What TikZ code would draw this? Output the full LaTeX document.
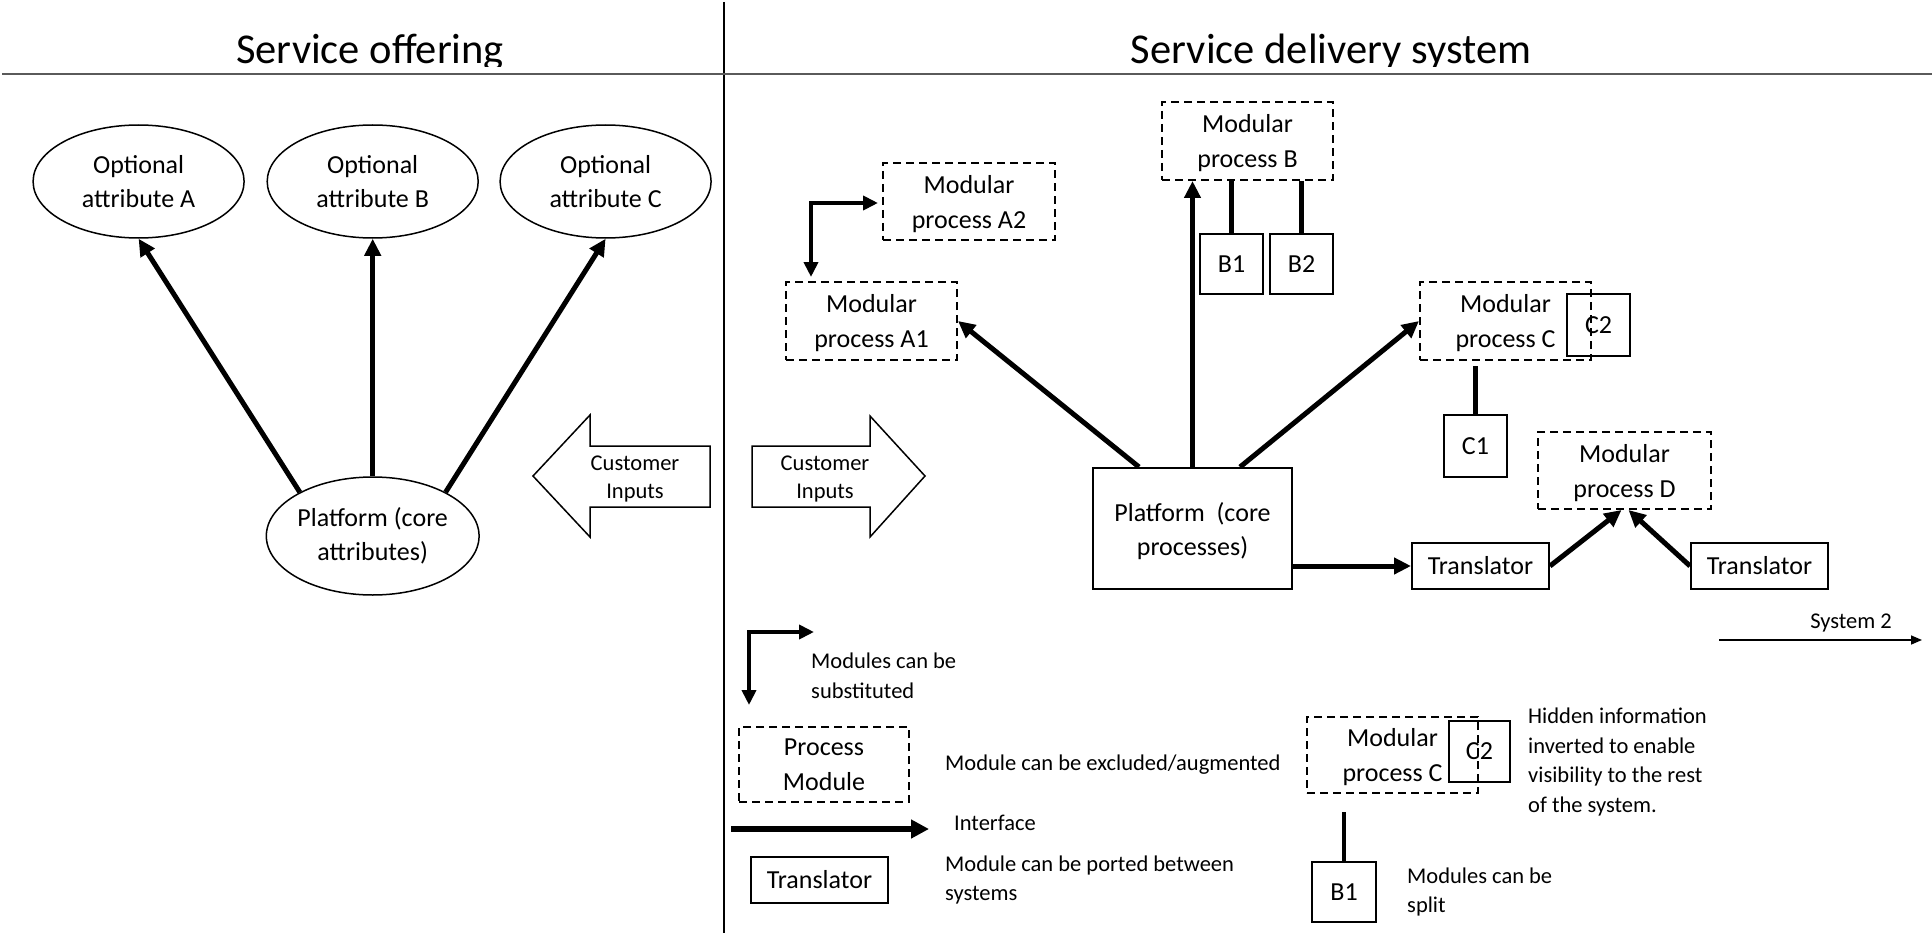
\documentclass[tikz,border=0pt]{standalone}
\usepackage{fontspec}
\setmainfont{Carlito}
\usetikzlibrary{arrows.meta,shapes.geometric,calc}
\definecolor{sepgray}{RGB}{90,90,90}
\begin{document}
\begin{tikzpicture}[x=1pt,y=-1pt,
  oval/.style={draw, line width=1.5pt, ellipse, minimum width=211pt, minimum height=113pt, inner sep=0pt, align=center, font=\fontsize{26}{34}\selectfont},
  dbox/.style={draw, dash pattern=on 8pt off 5pt, line width=2pt, minimum width=171pt, minimum height=78pt, inner sep=0pt, align=center, font=\fontsize{26}{35}\selectfont, text depth=-2.5pt},
  sbox/.style={draw, line width=2pt, inner sep=0pt, align=center, font=\fontsize{26}{34}\selectfont},
  legtext/.style={inner sep=0pt, align=left, anchor=west, font=\fontsize{22.5}{29.5}\selectfont},
  smalltext/.style={inner sep=0pt, align=center, font=\fontsize{22.5}{28.5}\selectfont},
  iarr/.style={line width=5pt, -{Triangle[length=17pt,width=16pt]}},
  subarr/.style={line width=4.5pt, {Triangle[length=15pt,width=14pt]}-{Triangle[length=15pt,width=14pt]}},
  link/.style={line width=4.5pt},
  cinput/.style={draw, line width=1.5pt, fill=white, line join=miter}
]
\useasboundingbox (0,0) rectangle (1932,936);

% frame lines
\coordinate (vtop) at (724,2);
\coordinate (vbot) at (724,933);
\coordinate (hl) at (2,74);
\coordinate (hr) at (1932,74);
\draw[line width=1.5pt] (vtop) -- (vbot);
\draw[line width=2.5pt, sepgray] (hl) -- (hr);

% titles (descenders cut)
\begin{scope}
\clip (0,0) rectangle (1932,67);
\node[anchor=base, inner sep=0pt, font=\fontsize{42.5}{50}\selectfont] (title1) at (370,64) {Service offering};
\node[anchor=base, inner sep=0pt, font=\fontsize{42.5}{50}\selectfont] (title2) at (1331,64) {Service delivery system};
\end{scope}

% ---------------- left: service offering
\node[oval] (oa) at (138.6,181.5) {Optional\\attribute A};
\node[oval] (ob) at (372.7,181.5) {Optional\\attribute B};
\node[oval] (oc) at (605.6,181.5) {Optional\\attribute C};
\node[oval, minimum width=212pt, minimum height=118pt] (pe) at (372.7,536) {Platform (core\\attributes)};
\draw[iarr] (pe.149) -- (oa.south);
\draw[iarr] (pe.north) -- (ob.south);
\draw[iarr] (pe.31) -- (oc.south);

% customer inputs arrows
\draw[cinput] (710,446) -- (590,446) -- (590,415) -- (533,476) -- (590,537) -- (590,507) -- (710,507) -- cycle;
\node[smalltext] (ci1) at (635,479) {Customer\\Inputs};
\draw[cinput] (752,446) -- (870,446) -- (870,416) -- (925,476) -- (870,537) -- (870,507) -- (752,507) -- cycle;
\node[smalltext] (ci2) at (825,479) {Customer\\Inputs};

% ---------------- right: service delivery system
\node[dbox, minimum width=172pt, minimum height=77pt] (a2) at (969,201.5) {Modular\\process A2};
\node[dbox] (a1) at (871.5,321) {Modular\\process A1};
\node[dbox] (b) at (1247.5,141) {Modular\\process B};
\node[sbox, minimum width=63pt, minimum height=60pt] (b1) at (1231.5,264) {B1};
\node[sbox, minimum width=63pt, minimum height=60pt] (b2) at (1301.5,264) {B2};
\node[sbox, minimum width=199pt, minimum height=121pt, text depth=-3pt] (pf) at (1192.5,528.5) {Platform~ (core\\processes)};
\node[dbox] (c) at (1505.5,321) {Modular\\process C};
\node[sbox, minimum width=63pt, minimum height=62pt] (c2) at (1598.5,325) {C2};
\node[sbox, minimum width=63pt, minimum height=62pt] (c1) at (1475.5,446) {C1};
\node[dbox, minimum width=173pt, minimum height=77pt] (d) at (1624.5,470.5) {Modular\\process D};
\node[sbox, minimum width=137pt, minimum height=46pt] (t1) at (1480.5,566) {Translator};
\node[sbox, minimum width=137pt, minimum height=46pt] (t2) at (1759.5,566) {Translator};

\draw[link] (b1.north |- b.south) -- (b1.north);
\draw[link] (b2.north |- b.south) -- (b2.north);
\draw[link] ($(c1.north |- c.south)+(0,5)$) -- (c1.north);

\draw[iarr] ($(pf.north west)+(47,0)$) -- (a1.east);
\draw[iarr] (pf.north) -- (pf.north |- b.south);
\draw[iarr] ($(pf.north west)+(148,0)$) -- (c.west);
\draw[iarr] (t1.west -| pf.east) -- (t1.west);
\draw[iarr] (t1.east) -- ($(d.south)+(-3,0)$);
\draw[iarr] (t2.west) -- ($(d.south)+(4,0)$);

\coordinate (sub) at (811,203);
\draw[subarr] ($(sub -| a2.west)+(-4,0)$) -- (sub) -- ($(sub |- a1.north)+(0,-4)$);

% system 2
\coordinate (s2a) at (1719,640);
\coordinate (s2b) at (1922,640);
\draw[line width=1.5pt, -{Triangle[length=11pt,width=9pt]}] (s2a) -- (s2b);
\node[smalltext] (ts2) at (1851,623) {System 2};

% ---------------- legend
\coordinate (lsubr) at (814,632);
\coordinate (lsub) at (749,632);
\coordinate (lsubd) at (749,705);
\draw[subarr] (lsubr) -- (lsub) -- (lsubd);
\node[legtext] (tsub) at (811,676) {Modules can be\\substituted};

\node[dbox, minimum width=170pt, minimum height=75pt, text depth=-6pt] (lpm) at (824,764.5) {Process\\Module};
\node[legtext] (texcl) at (945,765) {Module can be excluded/augmented};

\coordinate (lif1) at (731,829);
\coordinate (lif2) at (929,829);
\draw[line width=6.5pt, -{Triangle[length=18pt,width=18pt]}] (lif1) -- (lif2);
\node[legtext] (tif) at (954,823) {Interface};

\node[sbox, minimum width=137pt, minimum height=46pt] (ltr) at (819.5,880) {Translator};
\node[legtext] (tport) at (945,880) {Module can be ported between\\systems};

\node[dbox, minimum width=171pt, minimum height=76pt, text depth=-0.5pt] (lc) at (1392.5,755) {Modular\\process C};
\node[sbox, minimum width=61pt, minimum height=61pt] (lc2) at (1479.5,751.5) {C2};
\node[sbox, minimum width=64pt, minimum height=60pt] (lb1) at (1344,892) {B1};
\coordinate (lsplit) at (1344,812);
\draw[link] (lsplit) -- (lb1.north);
\node[legtext] (thidden) at (1528,762) {Hidden information\\inverted to enable\\visibility to the rest\\of the system.};
\node[legtext] (tsplit) at (1407,892) {Modules can be\\split};
\end{tikzpicture}
\end{document}
